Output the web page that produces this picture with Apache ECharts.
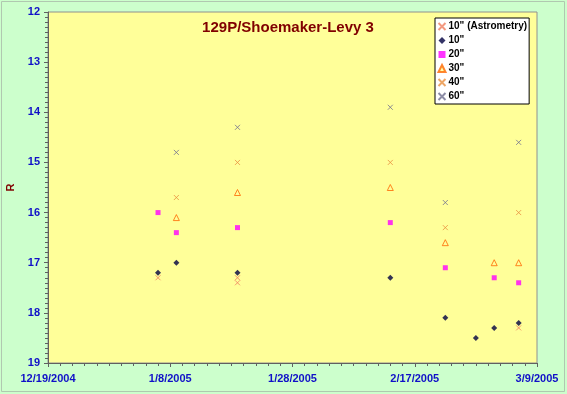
<!DOCTYPE html>
<html><head><meta charset="utf-8">
<script src="https://cdn.jsdelivr.net/npm/echarts@6/dist/echarts.min.js"></script>
<style>html,body{margin:0;padding:0;background:#ccffcc;}#c{width:567px;height:394px;}</style>
</head><body><div id="c"></div>
<script>
const startDate = '2004-12-19';
const astroDates = ['2005-01-06','2005-01-19','2005-01-19','2005-03-06'];
const astroVals  = [17.3, 17.3, 17.4, 18.3];
const d10Dates = ['2005-01-06','2005-01-09','2005-01-19','2005-02-13','2005-02-22','2005-02-27','2005-03-02','2005-03-06'];
const d10Vals  = [17.2, 17.0, 17.2, 17.3, 18.1, 18.5, 18.3, 18.2];
const d20Dates = ['2005-01-06','2005-01-09','2005-01-19','2005-02-13','2005-02-22','2005-03-02','2005-03-06'];
const d20Vals  = [16.0, 16.4, 16.3, 16.2, 17.1, 17.3, 17.4];
const d30Dates = ['2005-01-09','2005-01-19','2005-02-13','2005-02-22','2005-03-02','2005-03-06'];
const d30Vals  = [16.1, 15.6, 15.5, 16.6, 17.0, 17.0];
const d40Dates = ['2005-01-09','2005-01-19','2005-02-13','2005-02-22','2005-03-06'];
const d40Vals  = [15.7, 15.0, 15.0, 16.3, 16.0];
const d60Dates = ['2005-01-09','2005-01-19','2005-02-13','2005-02-22','2005-03-06'];
const d60Vals  = [14.8, 14.3, 13.9, 15.8, 14.6];

const DAY = 86400000;
const t0 = Date.parse(startDate + 'T00:00:00Z');
function off(d){ return Math.round((Date.parse(d + 'T00:00:00Z') - t0) / DAY); }
function pairs(ds, vs){ return ds.map((d,i)=>[off(d), vs[i]]); }
function fmt(v){ const dt = new Date(t0 + v*DAY); return (dt.getUTCMonth()+1)+'/'+dt.getUTCDate()+'/'+dt.getUTCFullYear(); }

const X = 'path://M0,0L10,10M10,0L0,10';
function xSeries(name, ds, vs, col){
  return {name, type:'scatter', data:pairs(ds,vs), symbol:X, symbolSize:5,
    itemStyle:{color:'none', borderColor:col, borderWidth:1}};
}
const chart = echarts.init(document.getElementById('c'), null, {renderer:'canvas'});
const font = 'Arial, Liberation Sans, sans-serif';
const lab = {color:'#1010c8', fontWeight:'bold', fontSize:11, fontFamily:font};
chart.setOption({
  backgroundColor:'#ccffcc',
  animation:false,
  title:{text:'129P/Shoemaker-Levy 3', left:283, top:15, textAlign:'center',
    textStyle:{color:'#800000', fontSize:15, fontWeight:'bold', fontFamily:font}},
  graphic:[{type:'rect', shape:{x:1.5,y:1.5,width:563,height:390}, style:{fill:'none', stroke:'#b0c8b0', lineWidth:1}}],
  grid:{left:48, right:30, top:12, bottom:31, outerBoundsMode:'none', containLabel:false,
    show:true, backgroundColor:'#ffff99', borderColor:'#909090', borderWidth:1},
  legend:{orient:'vertical', left:435, top:18, backgroundColor:'#ffffff', borderColor:'#000000', borderWidth:1,
    padding:[2,2,1,1], itemGap:1, itemWidth:7, itemHeight:7,
    textStyle:{color:'#000', fontWeight:'bold', fontSize:10, fontFamily:font, padding:[0,0,0,-2], lineHeight:13},
    data:['10" (Astrometry)','10"','20"','30"','40"','60"']},
  xAxis:{type:'value', min:0, max:80, interval:20, position:'bottom',
    axisLine:{lineStyle:{color:'#606060'}}, axisTick:{lineStyle:{color:'#606060'}, length:4},
    minorTick:{show:true, splitNumber:10, length:3, lineStyle:{color:'#606060'}},
    splitLine:{show:false},
    axisLabel:Object.assign({formatter:fmt, margin:10}, lab)},
  yAxis:{type:'value', min:12, max:19, interval:1, inverse:true,
    name:'R', nameLocation:'middle', nameGap:28, nameRotate:90,
    nameTextStyle:{color:'#800000', fontWeight:'bold', fontSize:11, fontFamily:font},
    axisLine:{show:true, lineStyle:{color:'#606060'}}, axisTick:{show:true, lineStyle:{color:'#606060'}, length:4},
    minorTick:{show:true, splitNumber:10, length:3, lineStyle:{color:'#606060'}},
    splitLine:{show:false},
    axisLabel:Object.assign({margin:8}, lab)},
  series:[
    xSeries('10" (Astrometry)', astroDates, astroVals, '#f08060'),
    {name:'10"', type:'scatter', data:pairs(d10Dates,d10Vals), symbol:'diamond', symbolSize:6,
      itemStyle:{color:'#000040'}},
    {name:'20"', type:'scatter', data:pairs(d20Dates,d20Vals), symbol:'rect', symbolSize:5,
      itemStyle:{color:'#ff00ff'}},
    {name:'30"', type:'scatter', data:pairs(d30Dates,d30Vals), symbol:'triangle', symbolSize:6,
      itemStyle:{color:'#ffff99', borderColor:'#ff6600', borderWidth:1}},
    xSeries('40"', d40Dates, d40Vals, '#e89040'),
    xSeries('60"', d60Dates, d60Vals, '#707090')
  ]
});
</script></body></html>
